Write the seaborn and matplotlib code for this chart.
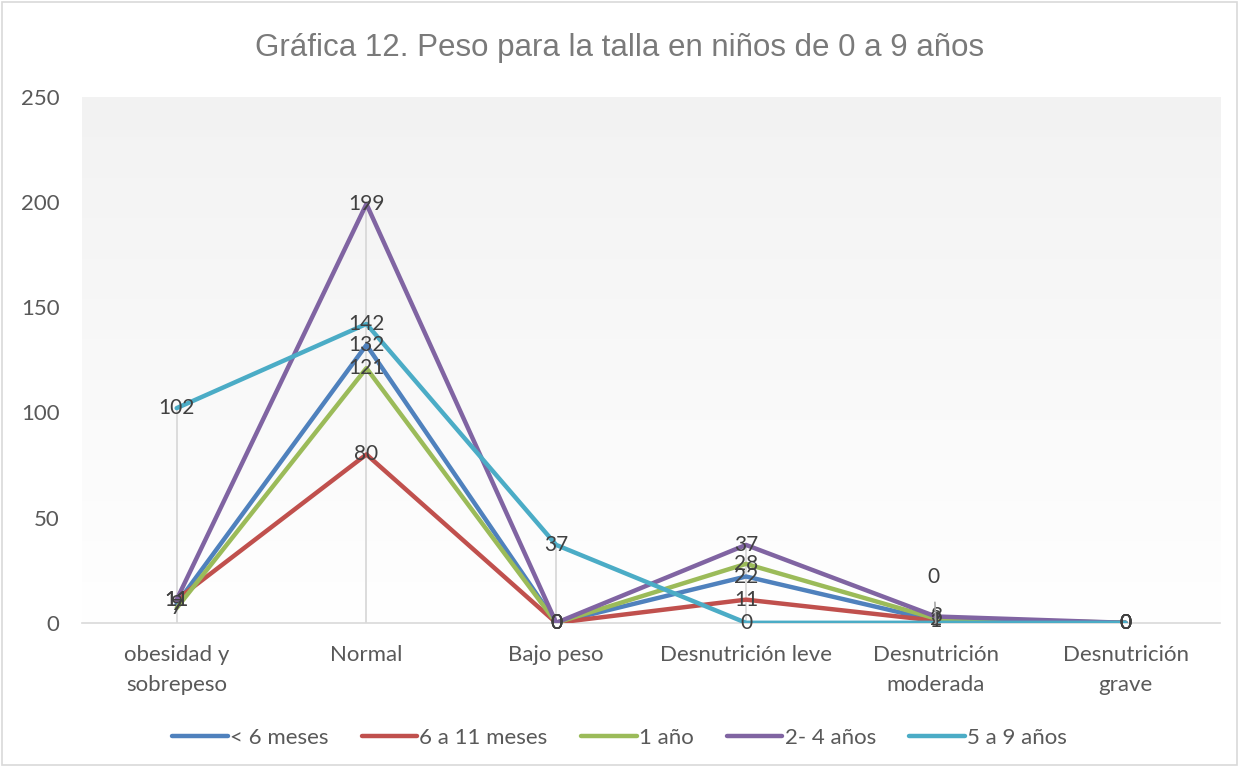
import matplotlib.pyplot as plt
import numpy as np
import pandas as pd
import seaborn as sns

categories = ["obesidad y\nsobrepeso", "Normal", "Bajo peso", "Desnutrición leve",
              "Desnutrición\nmoderada", "Desnutrición\ngrave"]
series_names = ["< 6 meses", "6 a 11 meses", "1 año", "2- 4 años", "5 a 9 años"]
menos_6_meses = [9, 132, 0, 22, 1, 0]
de_6_a_11_meses = [11, 80, 0, 11, 1, 0]
un_anio = [7, 121, 0, 28, 2, 0]
de_2_a_4_anios = [11, 199, 0, 37, 3, 0]
de_5_a_9_anios = [102, 142, 37, 0, 0, 0]
colors = ["#4F81BD", "#C0504D", "#9BBB59", "#8064A2", "#4BACC6"]

values = [menos_6_meses, de_6_a_11_meses, un_anio, de_2_a_4_anios, de_5_a_9_anios]
rows = []
for name, vals in zip(series_names, values):
    for i, (cat, v) in enumerate(zip(categories, vals)):
        rows.append({"pos": i, "categoria": cat, "serie": name, "valor": v})
df = pd.DataFrame(rows)

sns.set_style("white")
plt.rcParams["font.family"] = ["Lato", "DejaVu Sans"]

fig = plt.figure(figsize=(12.39, 7.67), dpi=100)
ax = fig.add_axes([0.066, 0.188, 0.919, 0.686])

# gradient background of the plot area
grad = np.linspace(0, 1, 256).reshape(-1, 1)
ax.imshow(grad, extent=[-0.5, 5.5, 0, 250], aspect="auto", origin="upper",
          cmap=plt.matplotlib.colors.LinearSegmentedColormap.from_list("g", ["#f2f2f2", "#ffffff"]),
          zorder=0)

# drop lines
maxes = df.groupby("pos")["valor"].max()
for pos, m in maxes.items():
    ax.plot([pos, pos], [0, m], color="#d9d9d9", lw=1.3, zorder=1)

sns.lineplot(data=df, x="pos", y="valor", hue="serie", hue_order=series_names,
             palette=colors, linewidth=3.2, ax=ax, sort=False, zorder=3)

# data labels
for name, vals in zip(series_names, values):
    for i, v in enumerate(vals):
        if name == "5 a 9 años" and i == 4:
            ax.annotate(str(v), xy=(i, v), xytext=(i - 0.01, 22), ha="center", va="center",
                        fontsize=15, color="#404040", zorder=5,
                        arrowprops=dict(arrowstyle="-", color="#a6a6a6", lw=1.2, shrinkA=9, shrinkB=0))
        else:
            ax.text(i, v, str(v), ha="center", va="center", fontsize=15, color="#404040", zorder=5)

ax.set_xlim(-0.5, 5.5)
ax.set_ylim(0, 250)
ax.set_xticks(range(len(categories)))
ax.set_xticklabels(categories, fontsize=16, color="#595959", linespacing=1.6)
ax.set_yticks([0, 50, 100, 150, 200, 250])
ax.set_yticklabels(["0", "50", "100", "150", "200", "250"], fontsize=16, color="#595959")
ax.tick_params(axis="both", length=0)
ax.tick_params(axis="x", pad=16)
ax.tick_params(axis="y", pad=16)
ax.set_xlabel("")
ax.set_ylabel("")
for side in ["top", "right", "left"]:
    ax.spines[side].set_visible(False)
ax.spines["bottom"].set_color("#d9d9d9")
ax.spines["bottom"].set_linewidth(1.2)

fig.text(0.5, 0.938, "Gráfica 12. Peso para la talla en niños de 0 a 9 años",
         ha="center", va="center", fontsize=22.5, color="#7a7a7a", family=["Liberation Sans", "DejaVu Sans"])

ax.get_legend().remove()
handles = [plt.Line2D([0], [0], color=c, lw=3.2) for c in colors]
fig.legend(handles, series_names, loc="center", bbox_to_anchor=(0.5, 0.038), ncol=5,
           frameon=False, fontsize=16, handlelength=2.5, columnspacing=1.5, handletextpad=0.1,
           labelcolor="#595959")

fig.patches.append(plt.Rectangle((0.002, 0.002), 0.996, 0.996, transform=fig.transFigure,
                                 fill=False, edgecolor="#d9d9d9", lw=1.2))

fig.savefig("out.png", dpi=100, facecolor="white")
